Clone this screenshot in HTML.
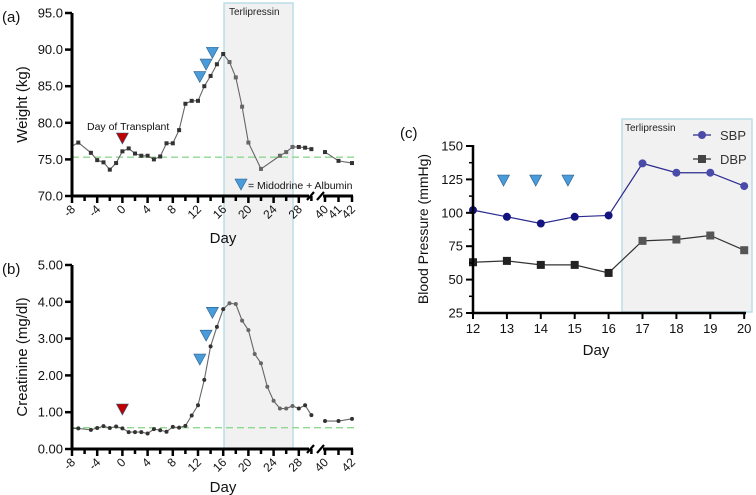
<!DOCTYPE html>
<html><head><meta charset="utf-8">
<style>
html,body{margin:0;padding:0;background:#fff;}
svg{display:block;font-family:"Liberation Sans",Arial,sans-serif;}
</style></head>
<body>
<svg id="fig" width="756" height="495" viewBox="0 0 756 495" xmlns="http://www.w3.org/2000/svg">
<rect x="224" y="3" width="69" height="446" fill="#f1f1f1" stroke="#bcdde8" stroke-width="1.5"/>
<text x="229" y="15" font-size="10" fill="#222">Terlipressin</text>
<rect x="622" y="119" width="130" height="193" fill="#f1f1f1" stroke="#bcdde8" stroke-width="1.5"/>
<text x="625" y="131" font-size="10" fill="#222">Terlipressin</text>
<g id="ga"></g>
<g id="gb"></g>
<g id="gc"></g>
</svg>
<script>
// Panel (a) weight
const weightDays = [-8,-7,-5,-4,-3,-2,-1,0,1,2,3,4,5,6,7,8,9,10,11,12,13,14,15,16,17,18,19,20,22,25,26,27,28,29,30,40,41,42];
const weightVals = [76.8,77.3,75.9,74.9,74.6,73.6,74.5,76.1,76.5,75.8,75.5,75.5,75.0,75.4,77.2,77.2,79.0,82.6,83.0,83.0,85.0,86.4,88.0,89.4,88.3,86.2,82.2,77.3,73.7,75.5,76.0,76.7,76.7,76.6,76.4,76.0,74.8,74.5];
const weightBaseline = 75.3;
const weightTicks = [70,75,80,85,90,95];
const weightXLabels = [-8,-4,0,4,8,12,16,20,24,28,40,41,42];
// Panel (b) creatinine
const creatDays = [-8,-7,-5,-4,-3,-2,-1,0,1,2,3,4,5,6,7,8,9,10,11,12,13,14,15,16,17,18,19,20,21,22,23,24,25,26,27,28,29,30,40,41,42];
const creatVals = [0.56,0.56,0.52,0.57,0.62,0.57,0.61,0.56,0.46,0.46,0.46,0.42,0.54,0.51,0.47,0.60,0.58,0.63,0.91,1.19,1.88,2.79,3.32,3.80,3.96,3.94,3.49,3.23,2.58,2.33,1.69,1.31,1.10,1.10,1.17,1.10,1.19,0.92,0.76,0.76,0.82];
const creatBaseline = 0.58;
const creatTicks = [0,1,2,3,4,5];
const creatXLabels = [-8,-4,0,4,8,12,16,20,24,28,40,42];
// Panel (c) BP
const bpDays = [12,13,14,15,16,17,18,19,20];
const sbpVals = [102,97,92,97,98,137,130,130,120];
const dbpVals = [63,64,61,61,55,79,80,83,72];
const bpTicks = [25,50,75,100,125,150];
const bpMidoDays = [12.9,13.85,14.8];

const NS="http://www.w3.org/2000/svg";
function mk(parent,tag,attrs,text){const e=document.createElementNS(NS,tag);for(const k in attrs)e.setAttribute(k,attrs[k]);if(text!==undefined)e.textContent=text;parent.appendChild(e);return e;}
function xab(d){return d<=30?72+(d+8)*6.3:325+(d-40)*13.5;}
function tri(g,x,ytip,color,name){const e=mk(g,'path',{d:`M${x-6},${ytip-11} L${x+6},${ytip-11} L${x},${ytip} Z`,fill:color,stroke:'#2a5f8a','stroke-width':0.6});

return e;}

function panelAB(g,days,vals,ticks,labels,baseline,yTop,yBot,vmax,fmt,marker,letter,ytitle,midoVals,redY,dayOff){
  const y=v=>yBot-(v-ticks[0])/(vmax-ticks[0])*(yBot-yTop);
  let e=mk(g,'line',{x1:72,x2:356,y1:y(baseline),y2:y(baseline),stroke:'#8fd88f','stroke-width':1.4,'stroke-dasharray':'7,4'});
  
  
  const pre=[],post=[];
  days.forEach((d,i)=>{(d<=30?pre:post).push(xab(d)+','+y(vals[i]));});
  e=mk(g,'polyline',{points:pre.join(' '),fill:'none',stroke:'#666','stroke-width':1.1});
  
  
  e=mk(g,'polyline',{points:post.join(' '),fill:'none',stroke:'#666','stroke-width':1.1});
  
  
  days.forEach((d,i)=>{
    if(i===0)return;
    const cx=xab(d),cy=y(vals[i]);
    const inT=d>=16.5&&d<=27;
    let m;
    if(marker==='sq')m=mk(g,'rect',{x:cx-2,y:cy-2,width:4,height:4,fill:inT?'#666':'#333'});
    else m=mk(g,'circle',{cx:cx,cy:cy,r:2,fill:inT?'#666':'#333'});
    
    
  });
  e=mk(g,'line',{x1:72,x2:72,y1:yTop,y2:yBot+1.5,stroke:'#000','stroke-width':3});
  
  
  e=mk(g,'path',{d:`M70.5,${yBot} L309,${yBot} M323,${yBot} L353,${yBot}`,stroke:'#000','stroke-width':3,fill:'none'});
  
  
  e=mk(g,'path',{d:`M307,${yBot+4} L314,${yBot-4} M317,${yBot+4} L324,${yBot-4}`,stroke:'#000','stroke-width':2.2});
  
  
  ticks.forEach(t=>{
    mk(g,'line',{x1:65,x2:72,y1:y(t),y2:y(t),stroke:'#000','stroke-width':2.5});
    const tx=mk(g,'text',{x:63,y:y(t)+4.5,'text-anchor':'end','font-size':13,fill:'#111'},fmt(t));
    
    
  });
  for(let d=-8;d<=30;d+=2){mk(g,'line',{x1:xab(d),x2:xab(d),y1:yBot,y2:yBot+(d%4===0?7:5),stroke:'#000','stroke-width':2.5});}
  [40,41,42].forEach(d=>mk(g,'line',{x1:xab(d),x2:xab(d),y1:yBot,y2:yBot+6,stroke:'#000','stroke-width':2.5}));
  labels.forEach(d=>{
    const x=xab(d)+4,yy=yBot+14;
    const tx=mk(g,'text',{x:x,y:yy,'text-anchor':'end','font-size':12,fill:'#111',transform:`rotate(-45 ${x} ${yy})`},String(d));
    
    
  });
  let t=mk(g,'text',{x:223,y:yBot+dayOff,'text-anchor':'middle','font-size':15,fill:'#111'},'Day');
  
  
  t=mk(g,'text',{x:2,y:yTop+9,'font-size':15,fill:'#111'},letter);
  
  
  const cy=(yTop+yBot)/2;
  t=mk(g,'text',{x:27,y:cy,'text-anchor':'middle','font-size':15,fill:'#111',transform:`rotate(-90 27 ${cy})`},ytitle);
  
  
  tri(g,xab(0),redY,'#c00000','transplant-marker');
  midoVals.forEach((v,i)=>tri(g,xab([13,14,15][i])-4.5,y(v),'#4a9bd9','midodrine-marker'));
  return y;
}
const ga=document.getElementById('ga');
panelAB(ga,weightDays,weightVals,weightTicks,weightXLabels,weightBaseline,13,196,95,t=>t.toFixed(1),'sq','(a)','Weight (kg)',[85.5,87.2,88.8],144,47);
let tt=mk(ga,'text',{x:87,y:130,'font-size':10.5,fill:'#111'},'Day of Transplant');


tri(ga,241,190,'#4a9bd9','legend-midodrine-icon');
tt=mk(ga,'text',{x:248,y:189,'font-size':10.5,fill:'#111'},'= Midodrine + Albumin');



const gb=document.getElementById('gb');
panelAB(gb,creatDays,creatVals,creatTicks,creatXLabels,creatBaseline,265,449,5,t=>t.toFixed(2),'dot','(b)','Creatinine (mg/dl)',[2.28,2.93,3.55],415,43);

const gc=document.getElementById('gc');
const xc=d=>473+(d-12)*33.9;
const yc=v=>313-(v-25)*1.336;
function poly(vals,color,name){const e=mk(gc,'polyline',{points:bpDays.map((d,i)=>xc(d)+','+yc(vals[i])).join(' '),fill:'none',stroke:color,'stroke-width':1.2});

}
poly(sbpVals,'#2b2b8f','sbp-line');
poly(dbpVals,'#333','dbp-line');
bpDays.forEach((d,i)=>{
  let m=mk(gc,'circle',{cx:xc(d),cy:yc(sbpVals[i]),r:4,fill:d>=17?'#4a4aa8':'#141480'});
  
  
  m=mk(gc,'rect',{x:xc(d)-4,y:yc(dbpVals[i])-4,width:8,height:8,fill:d>=17?'#555':'#222'});
  
  
});
let e=mk(gc,'path',{d:`M473,145 L473,314 M471.5,313 L746,313`,stroke:'#000','stroke-width':2.5,fill:'none'});


bpTicks.forEach(t=>{
  mk(gc,'line',{x1:466,x2:473,y1:yc(t),y2:yc(t),stroke:'#000','stroke-width':2});
  const tx=mk(gc,'text',{x:463,y:yc(t)+4.5,'text-anchor':'end','font-size':13,fill:'#111'},String(t));
  
  
});
for(let v=37.5;v<150;v+=25)mk(gc,'line',{x1:469,x2:473,y1:yc(v),y2:yc(v),stroke:'#000','stroke-width':1.5});
bpDays.forEach(d=>{
  mk(gc,'line',{x1:xc(d),x2:xc(d),y1:313,y2:319,stroke:'#000','stroke-width':2});
  const tx=mk(gc,'text',{x:xc(d),y:333,'text-anchor':'middle','font-size':13,fill:'#111'},String(d));
  
  
});
bpMidoDays.forEach(d=>tri(gc,xc(d),yc(120),'#4a9bd9','midodrine-marker-c'));
tt=mk(gc,'text',{x:596,y:355,'text-anchor':'middle','font-size':15,fill:'#111'},'Day');


tt=mk(gc,'text',{x:400,y:138,'font-size':15,fill:'#111'},'(c)');


tt=mk(gc,'text',{x:428,y:229,'text-anchor':'middle','font-size':14,fill:'#111',transform:'rotate(-90 428 229)'},'Blood Pressure (mmHg)');


e=mk(gc,'line',{x1:693,x2:711,y1:135,y2:135,stroke:'#2b2b8f','stroke-width':1.2});


e=mk(gc,'circle',{cx:702,cy:135,r:4,fill:'#4a4aa8'});


tt=mk(gc,'text',{x:720,y:140,'font-size':13,fill:'#333'},'SBP');


e=mk(gc,'line',{x1:693,x2:711,y1:159,y2:159,stroke:'#333','stroke-width':1.2});


e=mk(gc,'rect',{x:698,y:155,width:8,height:8,fill:'#444'});


tt=mk(gc,'text',{x:720,y:164,'font-size':13,fill:'#333'},'DBP');


</script>
</body></html>
